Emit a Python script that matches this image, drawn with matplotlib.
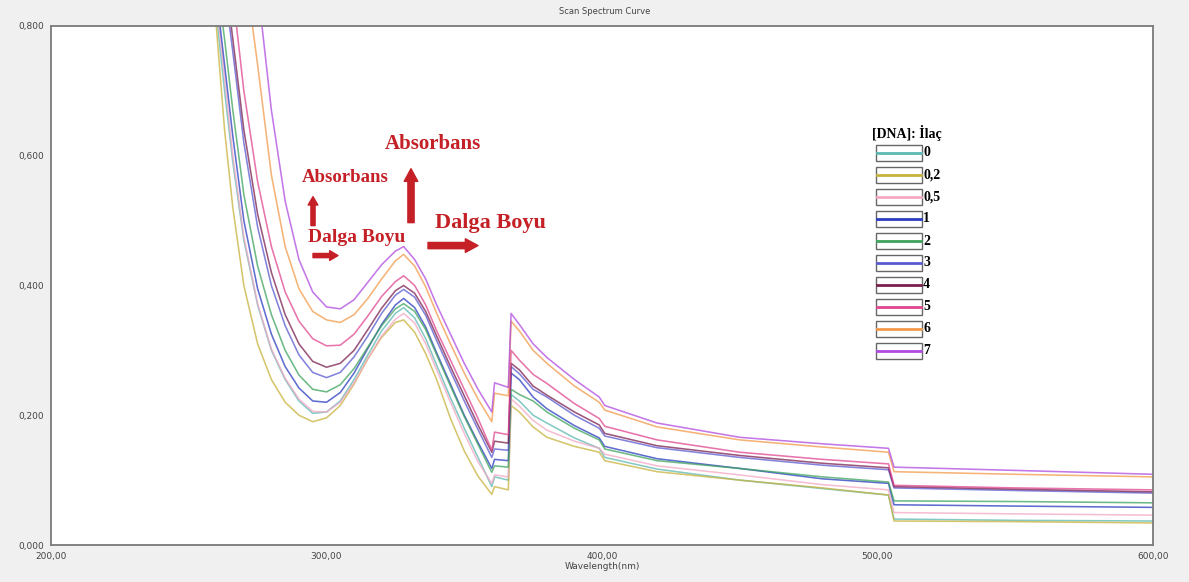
# Curvas de varredura UV-Vis (titulação com DNA)
import numpy as np
import matplotlib.pyplot as plt
from matplotlib.ticker import FuncFormatter
from matplotlib.patches import Rectangle

# Dados
wavelength = [250, 260, 263, 266, 270, 275, 280, 285, 290, 295,
              300, 305, 310, 315, 320, 325, 328, 332, 336, 340,
              345, 350, 355, 360, 361, 366, 367, 370, 375, 380,
              390, 399, 401, 420, 450, 480, 504, 506, 550, 600]

abs_0 = [1.05, 0.82, 0.70, 0.59, 0.47, 0.37, 0.30, 0.255, 0.222, 0.203,
         0.205, 0.222, 0.255, 0.293, 0.33, 0.357, 0.366, 0.35, 0.318, 0.277,
         0.227, 0.18, 0.135, 0.09, 0.105, 0.10, 0.232, 0.222, 0.20, 0.188,
         0.165, 0.149, 0.135, 0.117, 0.10, 0.087, 0.077, 0.04, 0.038, 0.037]
abs_02 = [1.0, 0.80, 0.64, 0.52, 0.40, 0.31, 0.255, 0.22, 0.20, 0.19,
          0.196, 0.215, 0.248, 0.287, 0.32, 0.343, 0.347, 0.328, 0.295, 0.255,
          0.195, 0.145, 0.106, 0.078, 0.09, 0.085, 0.215, 0.205, 0.182, 0.166,
          0.152, 0.143, 0.13, 0.113, 0.10, 0.088, 0.077, 0.037, 0.036, 0.034]
abs_05 = [1.05, 0.84, 0.72, 0.60, 0.475, 0.372, 0.302, 0.257, 0.225, 0.206,
          0.205, 0.22, 0.25, 0.287, 0.322, 0.348, 0.357, 0.342, 0.31, 0.27,
          0.22, 0.172, 0.128, 0.095, 0.108, 0.105, 0.225, 0.214, 0.192, 0.177,
          0.16, 0.149, 0.14, 0.122, 0.108, 0.093, 0.085, 0.05, 0.048, 0.046]
abs_1 = [1.1, 0.85, 0.74, 0.63, 0.50, 0.395, 0.325, 0.275, 0.242, 0.222,
         0.22, 0.235, 0.265, 0.303, 0.34, 0.37, 0.38, 0.366, 0.336, 0.296,
         0.248, 0.20, 0.158, 0.118, 0.132, 0.13, 0.265, 0.255, 0.228, 0.21,
         0.184, 0.165, 0.152, 0.133, 0.118, 0.102, 0.095, 0.062, 0.06, 0.058]
abs_2 = [1.1, 0.88, 0.78, 0.67, 0.54, 0.43, 0.355, 0.30, 0.262, 0.24,
         0.236, 0.247, 0.272, 0.305, 0.338, 0.364, 0.372, 0.36, 0.332, 0.293,
         0.245, 0.198, 0.155, 0.112, 0.122, 0.12, 0.24, 0.232, 0.222, 0.205,
         0.18, 0.162, 0.148, 0.13, 0.118, 0.105, 0.097, 0.068, 0.067, 0.065]
abs_3 = [1.2, 0.95, 0.86, 0.76, 0.62, 0.49, 0.40, 0.338, 0.293, 0.266,
         0.258, 0.266, 0.29, 0.322, 0.357, 0.385, 0.394, 0.382, 0.354, 0.315,
         0.268, 0.222, 0.178, 0.135, 0.148, 0.146, 0.275, 0.264, 0.24, 0.228,
         0.20, 0.18, 0.168, 0.15, 0.135, 0.123, 0.116, 0.088, 0.084, 0.08]
abs_4 = [1.25, 0.97, 0.88, 0.78, 0.64, 0.51, 0.42, 0.355, 0.31, 0.283,
         0.274, 0.28, 0.30, 0.332, 0.365, 0.392, 0.40, 0.388, 0.36, 0.322,
         0.275, 0.23, 0.185, 0.143, 0.16, 0.157, 0.28, 0.27, 0.245, 0.231,
         0.205, 0.185, 0.172, 0.153, 0.138, 0.126, 0.119, 0.09, 0.086, 0.082]
abs_5 = [1.3, 1.05, 0.95, 0.85, 0.70, 0.56, 0.46, 0.39, 0.345, 0.318,
         0.307, 0.308, 0.325, 0.353, 0.383, 0.406, 0.415, 0.40, 0.37, 0.33,
         0.285, 0.24, 0.195, 0.146, 0.174, 0.17, 0.30, 0.285, 0.263, 0.249,
         0.218, 0.195, 0.183, 0.162, 0.143, 0.132, 0.125, 0.092, 0.088, 0.085]
abs_6 = [1.4, 1.2, 1.1, 1.0, 0.9, 0.74, 0.57, 0.46, 0.395, 0.36,
         0.347, 0.343, 0.355, 0.38, 0.41, 0.438, 0.448, 0.43, 0.398, 0.357,
         0.31, 0.265, 0.225, 0.19, 0.234, 0.23, 0.345, 0.33, 0.30, 0.28,
         0.245, 0.22, 0.208, 0.182, 0.162, 0.151, 0.143, 0.113, 0.109, 0.105]
abs_7 = [1.5, 1.3, 1.2, 1.1, 1.0, 0.86, 0.67, 0.53, 0.44, 0.39,
         0.367, 0.364, 0.378, 0.405, 0.432, 0.453, 0.46, 0.44, 0.41, 0.37,
         0.325, 0.28, 0.24, 0.205, 0.25, 0.243, 0.357, 0.34, 0.31, 0.289,
         0.255, 0.228, 0.215, 0.188, 0.166, 0.156, 0.149, 0.12, 0.115, 0.109]

labels = ['0', '0,2', '0,5', '1', '2', '3', '4', '5', '6', '7']
series = [abs_0, abs_02, abs_05, abs_1, abs_2, abs_3, abs_4, abs_5, abs_6, abs_7]
colors = ['#5cb8b2', '#c8b23c', '#f4a8c4', '#2a3cc0', '#3da35d',
          '#5a5ad0', '#7a1f4f', '#e0468f', '#f29a4a', '#b04ae0']

W, H = 1189, 582
red = '#c42026'

fig = plt.figure(figsize=(W / 100, H / 100), dpi=100, facecolor='#f0f0f0')
ax = fig.add_axes([51 / W, (H - 545) / H, (1153 - 51) / W, (545 - 26) / H])
ax.set_facecolor('white')

# Curvas
for vals, c in zip(series, colors):
    ax.plot(wavelength, vals, color=c, lw=1.15, alpha=0.75)

ax.set_xlim(200, 600)
ax.set_ylim(0, 0.8)
ax.set_xticks([200, 300, 400, 500, 600])
ax.set_yticks([0, 0.2, 0.4, 0.6, 0.8])
ax.xaxis.set_major_formatter(FuncFormatter(lambda v, p: f'{v:.2f}'.replace('.', ',')))
ax.yaxis.set_major_formatter(FuncFormatter(lambda v, p: f'{v:.3f}'.replace('.', ',')))
ax.tick_params(length=0, labelsize=6.5, labelcolor='#444444', pad=5)
for s in ax.spines.values():
    s.set_color('#7a7a7a')
    s.set_linewidth(1.3)
ax.set_xlabel('Wavelength(nm)', fontsize=6.5, color='#444444', labelpad=1)
fig.text(605 / W, 1 - 12 / H, 'Scan Spectrum Curve', fontsize=6,
         color='#444444', ha='center', va='center')

# Anotações em vermelho
def px(x, y):
    return (200 + (x - 51) / 2.755, (545 - y) / 650)

txt = dict(color=red, family='Liberation Serif', weight='bold', ha='center', va='center')
ax.text(*px(345, 177), 'Absorbans', fontsize=13.5, **txt)
ax.text(*px(357, 237), 'Dalga Boyu', fontsize=14, **txt)
ax.text(*px(433, 143), 'Absorbans', fontsize=15, **txt)
ax.text(*px(490, 222), 'Dalga Boyu', fontsize=16, **txt)

small = dict(arrowstyle='simple,head_length=0.6,head_width=0.7,tail_width=0.3',
             color=red, shrinkA=0, shrinkB=0, mutation_scale=10)
big = dict(arrowstyle='simple,head_length=0.65,head_width=0.7,tail_width=0.32',
           color=red, shrinkA=0, shrinkB=0, mutation_scale=14)
ax.annotate('', xy=px(313, 196), xytext=px(313, 225), arrowprops=small)
ax.annotate('', xy=px(338, 255), xytext=px(313, 255), arrowprops=small)
ax.annotate('', xy=px(411, 168), xytext=px(411, 222), arrowprops=big)
ax.annotate('', xy=px(478, 245), xytext=px(428, 245), arrowprops=big)

# Legenda desenhada à mão
fig.text(907 / W, 1 - 133 / H, '[DNA]: İlaç', fontsize=10, weight='bold',
         family='Liberation Serif', ha='center', va='center')
for i, (lab, c) in enumerate(zip(labels, colors)):
    yc = 153 + 22 * i
    fig.patches.append(Rectangle((876 / W, 1 - (yc + 8) / H), 46 / W, 16 / H,
                                 transform=fig.transFigure, facecolor='white',
                                 edgecolor='#666666', lw=1.0))
    fig.lines.append(plt.Line2D([877 / W, 921 / W], [1 - yc / H, 1 - yc / H],
                                transform=fig.transFigure, color=c, lw=2))
    fig.text(923 / W, 1 - yc / H, lab, fontsize=10, weight='bold',
             family='Liberation Serif', ha='left', va='center')

fig.savefig('out.png', dpi=100, facecolor=fig.get_facecolor())
